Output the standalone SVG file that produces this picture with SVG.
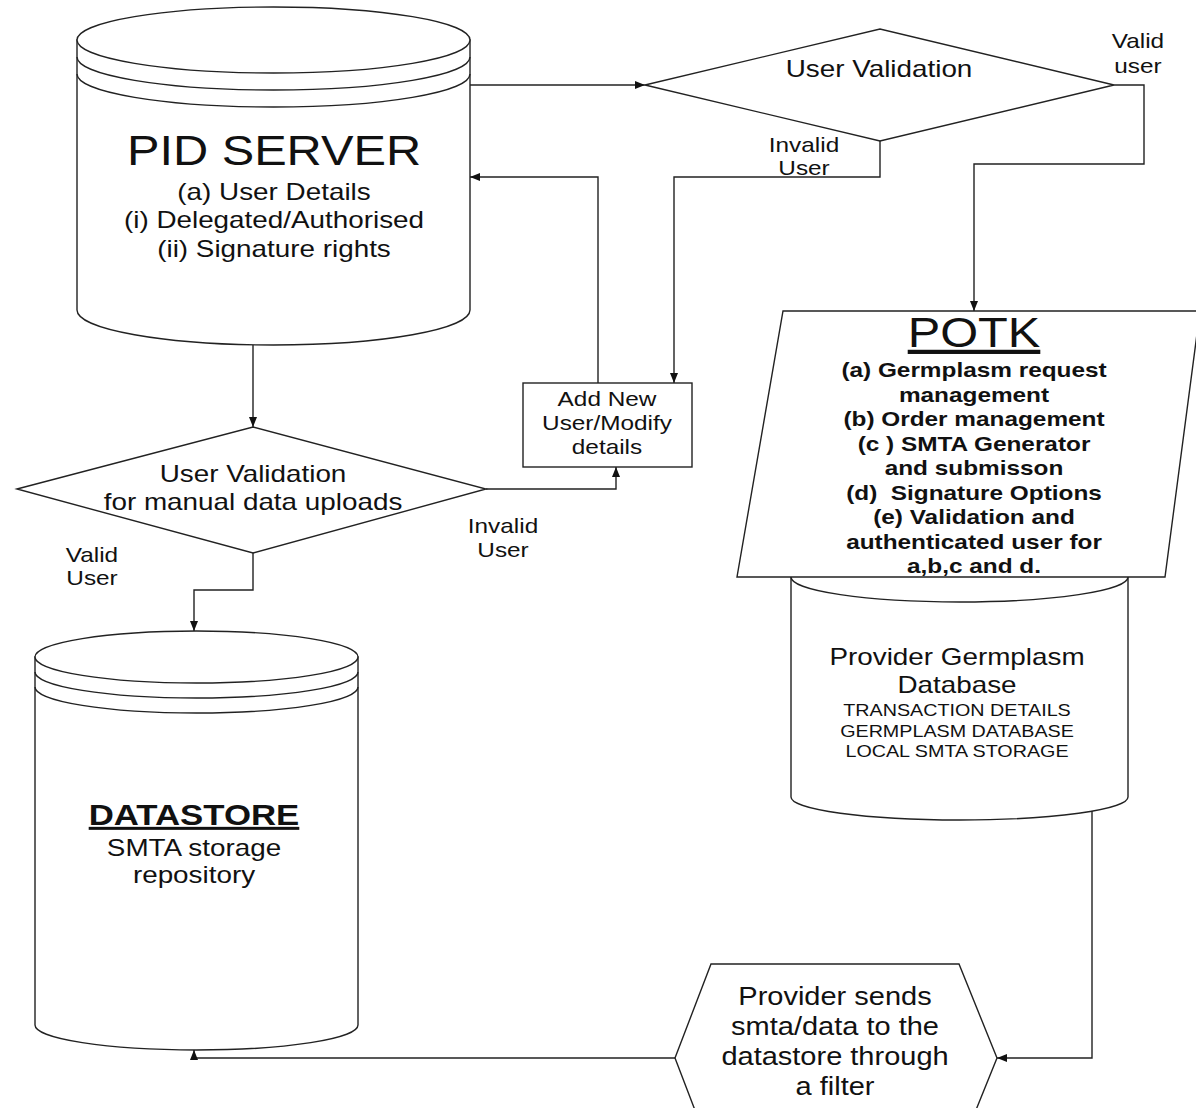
<svg xmlns="http://www.w3.org/2000/svg" width="1196" height="1108" viewBox="0 0 1196 1108">
<defs>
<style>
.s{fill:#fff;stroke:#222;stroke-width:1.4}
.n{fill:none;stroke:#222;stroke-width:1.4}
.c{fill:none;stroke:#222;stroke-width:1.4;marker-end:url(#ah)}
text{font-family:"Liberation Sans",Arial,sans-serif;fill:#111;text-anchor:middle}
.b{font-weight:bold}
.u{text-decoration:underline}
</style>
<marker id="ah" markerUnits="userSpaceOnUse" markerWidth="11" markerHeight="9" refX="10" refY="4" orient="auto">
<path d="M0,0 L10,4 L0,8 z" fill="#111"/>
</marker>
</defs>
<rect width="1196" height="1108" fill="#fff"/>

<g id="pid-server">
<path class="s" d="M77,40 V310 A196.5,35 0 0 0 470,310 V40 Z"/>
<ellipse class="s" cx="273.5" cy="40" rx="196.5" ry="33"/>
<path class="n" d="M77,57 A196.5,33 0 0 0 470,57 M77,74 A196.5,33 0 0 0 470,74"/>
<text transform="matrix(1.16 0 0 1 274 165)" font-size="42">PID SERVER</text>
<text transform="matrix(1.16 0 0 1 274 200)" font-size="24">(a) User Details</text>
<text transform="matrix(1.16 0 0 1 274 228)" font-size="24">(i) Delegated/Authorised</text>
<text transform="matrix(1.16 0 0 1 274 257)" font-size="24">(ii) Signature rights</text>
</g>

<g id="user-validation-top">
<polygon class="s" points="645,85 880,29 1114,85 880,141"/>
<text transform="matrix(1.16 0 0 1 879 77)" font-size="24">User Validation</text>
</g>

<g id="add-new-user">
<rect class="s" x="523" y="383" width="169" height="84"/>
<text transform="matrix(1.16 0 0 1 607 406)" font-size="21">Add New</text>
<text transform="matrix(1.16 0 0 1 607 430)" font-size="21">User/Modify</text>
<text transform="matrix(1.16 0 0 1 607 454)" font-size="21">details</text>
</g>

<g id="user-validation-manual">
<polygon class="s" points="17,489 253,427 486,489 253,553"/>
<text transform="matrix(1.16 0 0 1 253 482)" font-size="24">User Validation</text>
<text transform="matrix(1.16 0 0 1 253 510)" font-size="24">for manual data uploads</text>
</g>

<g id="provider-db">
<path class="s" d="M791,577 V797 A168.5,23 0 0 0 1128,797 V577 Z"/>
<ellipse class="s" cx="959.5" cy="577" rx="168.5" ry="25"/>
<text transform="matrix(1.16 0 0 1 957 665)" font-size="24">Provider Germplasm</text>
<text transform="matrix(1.16 0 0 1 957 693)" font-size="24">Database</text>
<text transform="matrix(1.16 0 0 1 957 716)" font-size="17">TRANSACTION DETAILS</text>
<text transform="matrix(1.16 0 0 1 957 736.5)" font-size="17">GERMPLASM DATABASE</text>
<text transform="matrix(1.16 0 0 1 957 757)" font-size="17">LOCAL SMTA STORAGE</text>
</g>

<g id="potk">
<polygon class="s" points="783,311 1200,311 1165,577 737,577"/>
<text class="u" transform="matrix(1.16 0 0 1 974 347)" font-size="42">POTK</text>
<text class="b" transform="matrix(1.16 0 0 1 974 377)" font-size="21">(a) Germplasm request</text>
<text class="b" transform="matrix(1.16 0 0 1 974 401.5)" font-size="21">management</text>
<text class="b" transform="matrix(1.16 0 0 1 974 426)" font-size="21">(b) Order management</text>
<text class="b" transform="matrix(1.16 0 0 1 974 450.5)" font-size="21" xml:space="preserve">(c ) SMTA Generator</text>
<text class="b" transform="matrix(1.16 0 0 1 974 475)" font-size="21">and submisson</text>
<text class="b" transform="matrix(1.16 0 0 1 974 499.5)" font-size="21" xml:space="preserve">(d)  Signature Options</text>
<text class="b" transform="matrix(1.16 0 0 1 974 524)" font-size="21">(e) Validation and</text>
<text class="b" transform="matrix(1.16 0 0 1 974 548.5)" font-size="21">authenticated user for</text>
<text class="b" transform="matrix(1.16 0 0 1 974 573)" font-size="21">a,b,c and d.</text>
</g>

<g id="datastore">
<path class="s" d="M35,657 V1025 A161.5,25 0 0 0 358,1025 V657 Z"/>
<ellipse class="s" cx="196.5" cy="657" rx="161.5" ry="26"/>
<path class="n" d="M35,672 A161.5,26 0 0 0 358,672 M35,687 A161.5,26 0 0 0 358,687"/>
<text class="b u" transform="matrix(1.16 0 0 1 194 825)" font-size="30">DATASTORE</text>
<text transform="matrix(1.16 0 0 1 194 856)" font-size="24">SMTA storage</text>
<text transform="matrix(1.16 0 0 1 194 883)" font-size="24">repository</text>
</g>

<g id="provider-sends-filter">
<polygon class="s" points="711,964 959,964 997,1058 959,1152 711,1152 675,1058"/>
<text transform="matrix(1.16 0 0 1 835 1005)" font-size="25">Provider sends</text>
<text transform="matrix(1.16 0 0 1 835 1035)" font-size="25">smta/data to the</text>
<text transform="matrix(1.16 0 0 1 835 1065)" font-size="25">datastore through</text>
<text transform="matrix(1.16 0 0 1 835 1095)" font-size="25">a filter</text>
</g>

<g id="connectors">
<path class="c" d="M470,85 H645"/>
<path class="c" d="M880,141 V177 H674 V383"/>
<path class="c" d="M598,383 V177 H470"/>
<path class="c" d="M1114,85 H1144 V164 H974 V311"/>
<path class="c" d="M253,345 V427"/>
<path class="c" d="M486,489 H616 V467"/>
<path class="c" d="M253,553 V590 H194 V631"/>
<path class="c" d="M1092,811 V1058 H997"/>
<path class="c" d="M675,1058 H194 V1050"/>
</g>

<g id="connector-labels">
<text transform="matrix(1.16 0 0 1 1138 48)" font-size="21">Valid</text>
<text transform="matrix(1.16 0 0 1 1138 73)" font-size="21">user</text>
<text transform="matrix(1.16 0 0 1 804 152)" font-size="21">Invalid</text>
<text transform="matrix(1.16 0 0 1 804 175)" font-size="21">User</text>
<text transform="matrix(1.16 0 0 1 503 533)" font-size="21">Invalid</text>
<text transform="matrix(1.16 0 0 1 503 557)" font-size="21">User</text>
<text transform="matrix(1.16 0 0 1 92 562)" font-size="21">Valid</text>
<text transform="matrix(1.16 0 0 1 92 585)" font-size="21">User</text>
</g>
</svg>
